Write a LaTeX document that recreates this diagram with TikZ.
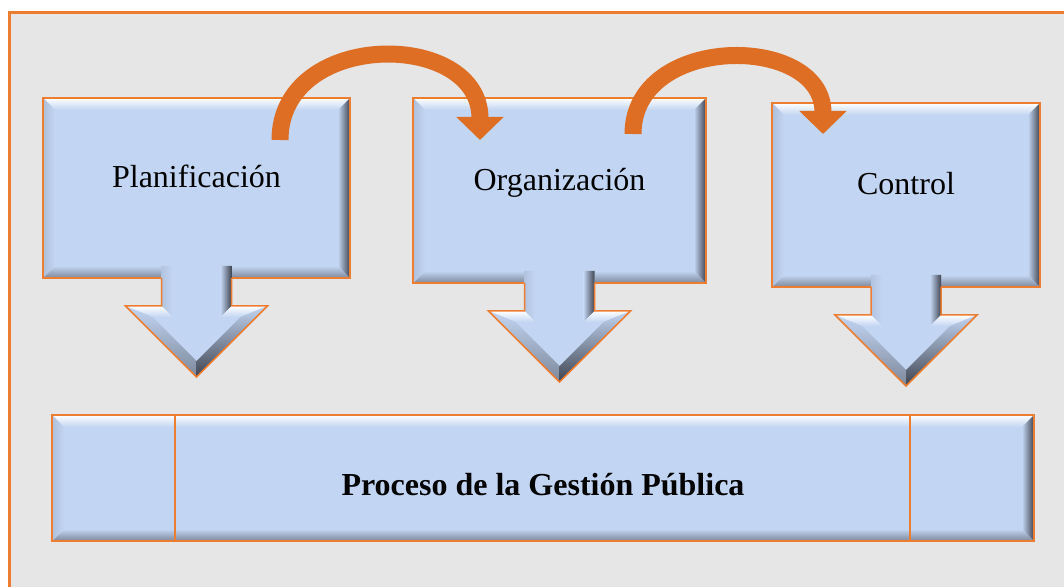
\documentclass[tikz,border=0pt]{standalone}
\usepackage{fontspec}
\setmainfont{Liberation Serif}
\usepackage{tikz}
\usetikzlibrary{arrows.meta}

\definecolor{boxfill}{HTML}{C2D5F2}
\definecolor{boxline}{HTML}{ED7D31}
\definecolor{boxmid}{HTML}{7D889B}
\definecolor{boxdark}{HTML}{3F4450}
\definecolor{bggray}{HTML}{E6E6E6}
\definecolor{flowc}{HTML}{DE6E24}

\tikzset{
	box/.style={draw=boxline, line width=0.75pt, fill=boxfill, inner sep=0pt, outer sep=0pt,
		font=\fontsize{16}{19}\selectfont, text height=11pt, text depth=11pt,
		path picture={
			\coordinate (nw) at (path picture bounding box.north west);
			\coordinate (ne) at (path picture bounding box.north east);
			\coordinate (sw) at (path picture bounding box.south west);
			\coordinate (se) at (path picture bounding box.south east);
			\shade[top color=white, bottom color=boxfill] (nw) -- (ne) -- ([shift={(-6pt,-6pt)}]ne) -- ([shift={(6pt,-6pt)}]nw) -- cycle;
			\shade[top color=boxfill, bottom color=boxmid] (sw) -- (se) -- ([shift={(-6pt,6pt)}]se) -- ([shift={(6pt,6pt)}]sw) -- cycle;
			\shade[left color=boxfill!85!boxdark, right color=boxfill] (nw) -- ([shift={(6pt,-6pt)}]nw) -- ([shift={(6pt,6pt)}]sw) -- (sw) -- cycle;
			\shade[left color=boxfill, right color=boxdark] (ne) -- ([shift={(-6pt,-6pt)}]ne) -- ([shift={(-6pt,6pt)}]se) -- (se) -- cycle;
		}},
	downarrow/.pic={
		\fill[boxfill] (-35,-12) rectangle (35,28);
		\fill[boxfill] (-71,28) -- (71,28) -- (0,99) -- cycle;
		\shade[left color=boxfill!88!boxdark, right color=boxfill] (-35,-12) -- (-24,-12) -- (-24,39) -- (-35,28) -- cycle;
		\shade[left color=boxfill, right color=boxdark] (24,-12) -- (35,-12) -- (35,28) -- (24,39) -- cycle;
		\shade[top color=white, bottom color=boxfill] (-71,28) -- (-35,28) -- (-24,39) -- (-44,39) -- cycle;
		\shade[top color=white, bottom color=boxfill] (35,28) -- (71,28) -- (44,39) -- (24,39) -- cycle;
		\shade[top color=boxfill, bottom color=boxmid] (-71,28) -- (-44,39) -- (0,83) -- (0,99) -- cycle;
		\shade[top color=boxfill, bottom color=boxdark] (71,28) -- (44,39) -- (0,83) -- (0,99) -- cycle;
		\draw[boxline, line width=0.75pt] (-35,0) -- (-35,28) -- (-71,28) -- (0,99) -- (71,28) -- (35,28) -- (35,0);
	},
	flow/.style={draw=flowc, line width=8.5pt, -{Triangle[width=23pt,length=11.5pt]}}
}

\begin{document}
\begin{tikzpicture}[x=0.5pt, y=-0.5pt]
	\useasboundingbox (0,0) rectangle (1064,587);
	\fill[white] (0,0) rectangle (1064,587);
	\fill[bggray] (8,12) rectangle (1064,587);
	\draw[boxline, line width=1.5pt] (9,587) -- (9,12.5) -- (1064,12.5);

	\node (plan) at (196.5,188) [box, minimum width=153.5pt, minimum height=90pt] {Planificación};
	\node (org) at (559.5,190.5) [box, minimum width=146.5pt, minimum height=92.5pt] {Organización};
	\node (ctrl) at (906,195) [box, minimum width=134pt, minimum height=92pt] {Control};
		\pic at (plan.south) {downarrow};
		\pic at (org.south) {downarrow};
		\pic at (ctrl.south) {downarrow};
			\node (proc) at (543,478) [box, minimum width=491pt, minimum height=63pt, text height=17pt, text depth=0pt] {\textbf{Proceso de la Gestión Pública}};
			\draw[boxline, line width=1pt] ([xshift=61.5pt]proc.north west) -- ([xshift=61.5pt]proc.south west);
			\draw[boxline, line width=1pt] ([xshift=-62pt]proc.north east) -- ([xshift=-62pt]proc.south east);
	\draw[flow] ([xshift=-35pt,yshift=-21pt]plan.north east) to[out=90, in=90, looseness=1.42] ([xshift=33.5pt,yshift=-21pt]org.north west);
	\draw[flow] ([xshift=-36.5pt,yshift=-18pt]org.north east) to[out=90, in=90, looseness=1.36] ([xshift=25.5pt,yshift=-15.5pt]ctrl.north west);
\end{tikzpicture}
\end{document}
